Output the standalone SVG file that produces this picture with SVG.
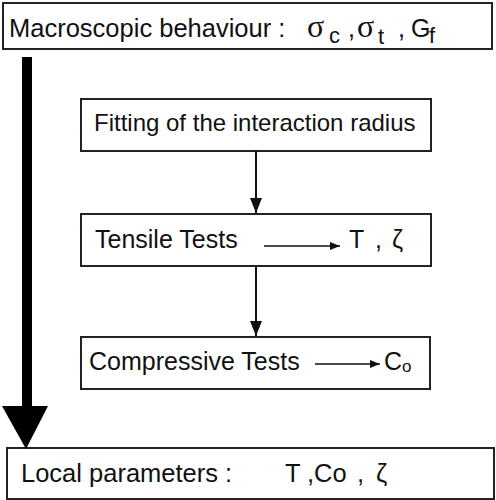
<svg xmlns="http://www.w3.org/2000/svg" width="496" height="500" viewBox="0 0 496 500">
<style>
.box{fill:#fff;stroke:#222;stroke-width:2}
.t{font-family:"Liberation Sans",Arial,sans-serif;font-size:25px;fill:#111}
.sub{font-size:22px}
.sg{font-family:"Liberation Serif","Times New Roman",serif;font-size:32px}
.c{stroke:#111;stroke-width:2;fill:none}
.cs{stroke:#111;stroke-width:1.5;fill:none}
</style>
<defs>
<marker id="ah" markerWidth="15" markerHeight="12" refX="15" refY="6" orient="auto" markerUnits="userSpaceOnUse" viewBox="0 0 15 12">
<path d="M0,0 L15,6 L0,12 Z" fill="#111"/>
</marker>
<marker id="ahs" markerWidth="10" markerHeight="8" refX="10" refY="4" orient="auto" markerUnits="userSpaceOnUse" viewBox="0 0 10 8">
<path d="M0,0 L10,4 L0,8 Z" fill="#111"/>
</marker>
</defs>
<g id="macro">
<rect class="box" x="3" y="3" width="489" height="46"/>
<text class="t" x="9" y="37" style="font-size:25.5px">Macroscopic behaviour :</text>
<text class="t" y="37"><tspan class="sg" x="307">σ</tspan><tspan class="sub" x="329" dy="6">c</tspan><tspan dy="-6" x="348">,</tspan><tspan class="sg" x="357">σ</tspan><tspan class="sub" x="378" dy="7">t</tspan><tspan dy="-7" x="398">,</tspan><tspan x="411">G</tspan><tspan class="sub" x="429" dy="6">f</tspan></text>
</g>
<g id="fitting">
<rect class="box" x="81" y="99" width="350" height="52"/>
<text class="t" x="94" y="131" style="font-size:24px">Fitting of the interaction radius</text>
</g>
<g id="tensile">
<rect class="box" x="81" y="214" width="350" height="52"/>
<text class="t" x="95" y="248">Tensile Tests</text>
<text class="t" x="349" y="248">T<tspan x="375">,</tspan><tspan x="392">ζ</tspan></text>
</g>
<g id="compressive">
<rect class="box" x="81" y="337" width="349" height="52"/>
<text class="t" x="89" y="370">Compressive Tests</text>
<text class="t" x="384" y="370">C<tspan style="font-size:17px" dy="2">o</tspan></text>
</g>
<g id="local">
<rect class="box" x="7" y="448" width="487" height="51"/>
<text class="t" x="21" y="482" style="font-size:25.5px">Local parameters :</text>
<text class="t" y="482" style="font-size:25.5px"><tspan x="285">T</tspan><tspan x="307">,</tspan><tspan x="314">Co</tspan><tspan x="357">,</tspan><tspan x="376">ζ</tspan></text>
</g>
<g id="connectors">
<line class="c" x1="256" y1="151" x2="256" y2="213" marker-end="url(#ah)"/>
<line class="c" x1="256" y1="266" x2="256" y2="336" marker-end="url(#ah)"/>
<rect x="22" y="57" width="10" height="350" fill="#000"/>
<path d="M2,406 L48,406 L26,449 Z" fill="#000"/>
<line class="cs" x1="264" y1="246" x2="340" y2="246" marker-end="url(#ahs)"/>
<line class="cs" x1="315" y1="364" x2="380" y2="364" marker-end="url(#ahs)"/>
</g>
</svg>
